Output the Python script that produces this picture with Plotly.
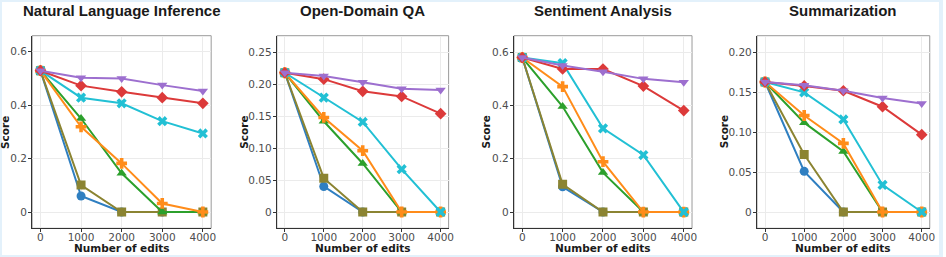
import plotly.graph_objects as go

edits = [0, 1000, 2000, 3000, 4000]
titles = ["Natural Language Inference", "Open-Domain QA", "Sentiment Analysis", "Summarization"]

series_names = ["Blue", "Olive", "Green", "Orange", "Cyan", "Red", "Purple"]
colors = ["#2f7fc1", "#8b8432", "#2ca02c", "#ff8c1a", "#22c0d4", "#dc3a3a", "#9d6fcf"]
symbols = ["circle", "square", "triangle-up", "cross", "x", "diamond", "triangle-down"]

nli = [
    [0.529, 0.060, 0.0, 0.0, 0.0],
    [0.529, 0.101, 0.0, 0.0, 0.0],
    [0.529, 0.350, 0.145, 0.0, 0.0],
    [0.529, 0.319, 0.182, 0.032, 0.0],
    [0.529, 0.428, 0.407, 0.340, 0.294],
    [0.529, 0.473, 0.450, 0.428, 0.407],
    [0.529, 0.503, 0.500, 0.475, 0.453],
]
odqa = [
    [0.218, 0.040, 0.0, 0.0, 0.0],
    [0.218, 0.053, 0.0, 0.0, 0.0],
    [0.218, 0.142, 0.076, 0.0, 0.0],
    [0.218, 0.148, 0.096, 0.0, 0.0],
    [0.218, 0.179, 0.141, 0.067, 0.0],
    [0.218, 0.208, 0.189, 0.181, 0.154],
    [0.218, 0.213, 0.203, 0.193, 0.191],
]
sa = [
    [0.580, 0.095, 0.0, 0.0, 0.0],
    [0.580, 0.104, 0.0, 0.0, 0.0],
    [0.580, 0.396, 0.148, 0.0, 0.0],
    [0.580, 0.471, 0.189, 0.0, 0.0],
    [0.580, 0.559, 0.314, 0.214, 0.0],
    [0.580, 0.537, 0.537, 0.473, 0.381],
    [0.580, 0.550, 0.527, 0.500, 0.487],
]
summ = [
    [0.163, 0.051, 0.0, 0.0, 0.0],
    [0.163, 0.072, 0.0, 0.0, 0.0],
    [0.163, 0.112, 0.076, 0.0, 0.0],
    [0.163, 0.121, 0.086, 0.0, 0.0],
    [0.163, 0.150, 0.116, 0.034, 0.0],
    [0.163, 0.158, 0.152, 0.132, 0.097],
    [0.163, 0.159, 0.152, 0.143, 0.136],
]
panels = [nli, odqa, sa, summ]

ytickvals = [[0, 0.2, 0.4, 0.6], [0, 0.05, 0.10, 0.15, 0.20, 0.25], [0, 0.2, 0.4, 0.6], [0, 0.05, 0.10, 0.15, 0.20]]
yticktext = [["0", "0.2", "0.4", "0.6"], ["0", "0.05", "0.10", "0.15", "0.20", "0.25"],
             ["0", "0.2", "0.4", "0.6"], ["0", "0.05", "0.10", "0.15", "0.20"]]
yranges = [[-0.061, 0.66], [-0.0255, 0.276], [-0.061, 0.662], [-0.0204, 0.221]]

W, H = 946, 257
xpix = [(32.3, 212.3), (278.3, 451.0), (516.7, 695.7), (761.0, 934.7)]
ytitle_x = [5, 245, 489, 728]
ydom = [(H - 228.3) / H, (H - 35.7) / H]

fig = go.Figure()
for p, data in enumerate(panels):
    ax = "" if p == 0 else str(p + 1)
    for i, vals in enumerate(data):
        fig.add_trace(go.Scatter(
            x=edits, y=vals, mode="lines+markers", name=series_names[i],
            xaxis="x" + ax, yaxis="y" + ax, showlegend=False,
            line=dict(color=colors[i], width=2),
            marker=dict(symbol=symbols[i], size=9, color=colors[i],
                        line=dict(width=0)),
        ))
    x0, x1 = xpix[p]
    common = dict(showline=True, linecolor="#333333", linewidth=1.2, mirror=False,
                  ticks="outside", ticklen=3, tickcolor="#333333",
                  gridcolor="#ebebeb", gridwidth=1, zeroline=False,
                  tickfont=dict(family="DejaVu Sans", size=10.5, color="#4d4d4d"))
    fig.update_layout(**{
        "xaxis" + ax: dict(domain=[x0 / W, x1 / W], range=[-205, 4205],
                           tickvals=[0, 1000, 2000, 3000, 4000],
                           ticklabelstandoff=-4,
                           anchor="y" + ax, **common),
        "yaxis" + ax: dict(domain=ydom, range=yranges[p],
                           tickvals=ytickvals[p], ticktext=yticktext[p],
                           ticklabelstandoff=-1,
                           anchor="x" + ax, **common),
    })
    fig.add_shape(type="rect", xref="paper", yref="paper",
                  x0=x0 / W, x1=x1 / W, y0=ydom[0], y1=ydom[1],
                  line=dict(color="#9a9a9a", width=1), layer="below")
    fig.add_annotation(text="<b>" + titles[p] + "</b>", xref="paper", yref="paper",
                       x=(x0 + x1) / 2 / W, y=1 - 10.5 / H, showarrow=False,
                       xanchor="center", yanchor="middle",
                       font=dict(family="Liberation Sans", size=15, color="#1a1a1a"))
    fig.add_annotation(text="<b>Number of edits</b>", xref="paper", yref="paper",
                       x=(x0 + x1) / 2 / W, y=1 - 247.5 / H, showarrow=False,
                       xanchor="center", yanchor="middle",
                       font=dict(family="DejaVu Sans", size=10.5, color="#1a1a1a"))
    fig.add_annotation(text="<b>Score</b>", xref="paper", yref="paper",
                       x=ytitle_x[p] / W, y=(ydom[0] + ydom[1]) / 2, showarrow=False,
                       textangle=-90, xanchor="center", yanchor="middle",
                       font=dict(family="DejaVu Sans", size=10.5, color="#1a1a1a"))

fig.add_shape(type="rect", xref="paper", yref="paper", x0=0, x1=1, y0=0, y1=1,
              line=dict(color="#e3f1fb", width=4))

fig.update_layout(width=W, height=H, margin=dict(l=0, r=0, t=0, b=0),
                  paper_bgcolor="white", plot_bgcolor="white")
fig.write_html("out.html", config={"displayModeBar": False},
               post_script="document.body.style.margin='0';document.body.style.overflow='hidden';")
